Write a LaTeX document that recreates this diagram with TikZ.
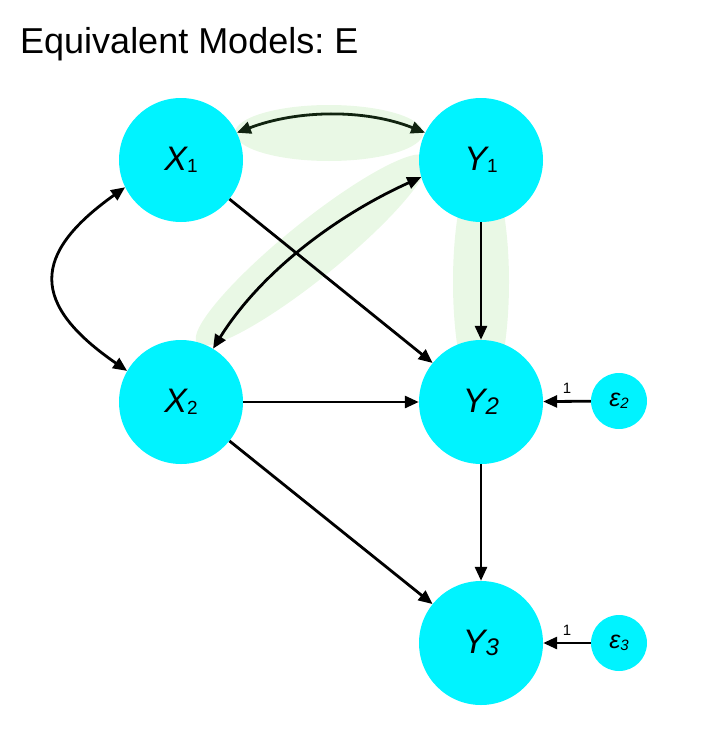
\documentclass[tikz,border=0pt]{standalone}
\usepackage{fontspec}
\setmainfont{Liberation Sans}
\usetikzlibrary{arrows.meta}
\definecolor{nodecyan}{HTML}{00F3FF}
\definecolor{haze}{HTML}{E9F8E5}
\definecolor{covgreen}{HTML}{10230F}
\frenchspacing

\begin{document}
\begin{tikzpicture}[x=1pt,y=-1pt,
  var/.style={circle, fill=nodecyan, minimum size=124pt, inner sep=0pt,
    font=\fontsize{34}{34}\selectfont\itshape},
  err/.style={circle, fill=nodecyan, minimum size=56pt, inner sep=0pt,
    font=\fontsize{25}{25}\selectfont\itshape},
  regr/.style={line width=2.8pt, -{Triangle[length=14pt,width=12pt]}},
  cov/.style={line width=2.8pt,
    {Triangle[length=14pt,width=12pt]}-{Triangle[length=14pt,width=12pt]}},
  wt/.style={font=\fontsize{15}{15}\selectfont, above=3pt},
]
\useasboundingbox (0,0) rectangle (705,739);

% title
\node[anchor=base west, inner sep=0pt, font=\fontsize{36}{36}\selectfont]
  (title) at (20,53) {Equivalent Models: E};

% shaded groupings behind the covariances and the Y1 -> Y2 path
\fill[haze] (329,133) ellipse [x radius=94, y radius=28];
\fill[haze] (481,282) ellipse [x radius=28, y radius=120];
\fill[haze, rotate around={39:(312,250)}] (312,250) ellipse [x radius=148, y radius=28];

% variables
\node[var] (X1) at (181,160) {X\upshape\fontsize{19}{19}\selectfont\raisebox{-2pt}{1}};
\node[var] (Y1) at (481,160) {Y\upshape\fontsize{19}{19}\selectfont\raisebox{-2pt}{1}};
\node[var] (X2) at (181,402) {X\upshape\fontsize{19}{19}\selectfont\raisebox{-2pt}{2}};
\node[var] (Y2) at (481,402) {Y\fontsize{24}{24}\selectfont\raisebox{-2pt}{2}};
\node[var] (Y3) at (481,643) {Y\fontsize{24}{24}\selectfont\raisebox{-2pt}{3}};
\node[err] (e2) at (619,401) {ε\fontsize{15}{15}\selectfont\raisebox{-2pt}{2}};
\node[err] (e3) at (619,643) {ε\fontsize{15}{15}\selectfont\raisebox{-2pt}{3}};

% regressions
\draw[regr] (X1) -- (Y2);
\draw[regr] (X2) -- (Y2);
\draw[regr] (X2) -- (Y3);
\draw[regr] (Y1) -- (Y2);
\draw[regr] (Y2) -- (Y3);
\draw[regr] (e2) -- node[wt] {1} (Y2);
\draw[regr] (e3) -- node[wt] {1} (Y3);

% covariances
\draw[cov, covgreen] (X1.26) .. controls +(60,-23) and +(-60,-24) .. (Y1.154);
\draw[cov] (X1.206) .. controls +(-94,67) and +(-97,-67) .. (X2.150);
\draw[cov] (X2.59) .. controls +(50,-80) and +(-80,36) .. (Y1.196);
\end{tikzpicture}
\end{document}
